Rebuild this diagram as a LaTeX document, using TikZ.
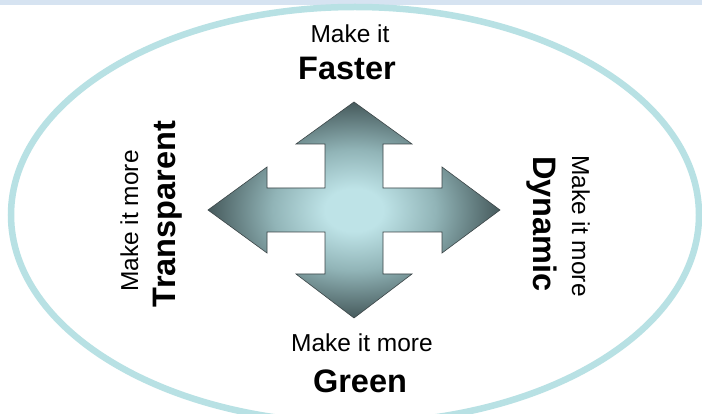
\documentclass[tikz,border=0pt]{standalone}
\usepackage{fontspec}
\setmainfont{Liberation Sans}
\usepackage{tikz}
\usetikzlibrary{positioning}
\definecolor{bandblue}{RGB}{214,227,241}
\definecolor{ringcyan}{RGB}{184,225,228}
\definecolor{crossin}{RGB}{190,227,231}
\definecolor{crossmid}{RGB}{145,180,183}
\definecolor{crossout}{RGB}{70,90,92}
\definecolor{crossline}{RGB}{60,70,72}
\pgfdeclareradialshading{crossglow}{\pgfpoint{0bp}{0bp}}{%
  color(0bp)=(crossin); color(5bp)=(crossin); color(14bp)=(crossmid); color(25bp)=(crossout); color(50bp)=(crossout)}
\tikzset{
    font={\fontsize{24.5pt}{26pt}\selectfont},
    small/.style={
           inner sep=0pt,
           anchor=base,
           },
    big/.style={
           inner sep=0pt,
           anchor=base,
           font={\fontsize{32.5pt}{34pt}\selectfont\bfseries},
           },
}

\begin{document}
\begin{tikzpicture}[x=1pt,y=-1pt]

\useasboundingbox[fill=white] (0,0) rectangle (702,414);

% band on top
\fill[bandblue] (0,0) rectangle (702,5);

% ring
\draw[ringcyan, line width=6.5pt] (355,215) ellipse [x radius=344, y radius=208];

% four-way arrow
\shade[shading=crossglow, draw=crossline, line width=0.6pt]
  (354,102) -- (412,144) -- (383,144) -- (383,188) -- (442,188) -- (442,167)
  -- (500,210) -- (442,253) -- (442,232) -- (383,232) -- (383,274) -- (412,274)
  -- (354,318) -- (296,274) -- (325,274) -- (325,232) -- (267,232) -- (267,253)
  -- (208,210) -- (267,167) -- (267,188) -- (325,188) -- (325,144) -- (296,144)
  -- cycle;

% top
\node[big] (FASTER) at (347,80) {Faster};
\node[small] (MAKEFAST) at (350,43) {Make it};

% bottom
\node[small] (MAKEGREEN) at (362,352) {Make it more};
\node[big] (GREEN) at (360,392) {Green};

% left
\node[small, rotate=90] (MAKETRANS) at (138,221) {Make it more};
\node[big, rotate=90] (TRANS) at (175,214) {Transparent};

% right
\node[big, rotate=-90] (DYNAMIC) at (533,224) {Dynamic};
\node[small, rotate=-90] (MAKEDYN) at (572,226) {Make it more};

\end{tikzpicture}
\end{document}
